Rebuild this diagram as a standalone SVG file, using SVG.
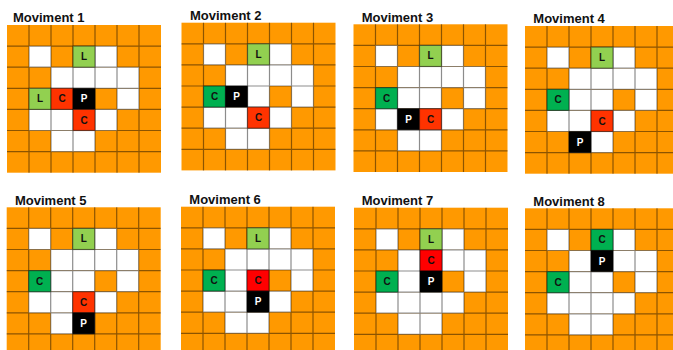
<svg xmlns="http://www.w3.org/2000/svg" xmlns:xlink="http://www.w3.org/1999/xlink" width="673" height="350" viewBox="0 0 673 350">
<style>
.title{font-family:"Liberation Sans",Arial,sans-serif;font-weight:bold;font-size:13px;fill:#111}
.lbl{font-family:"Liberation Sans",Arial,sans-serif;font-weight:bold;font-size:10px;text-anchor:middle}
.k{fill:#111}
.w{fill:#fff}
.ln{stroke:#000;stroke-opacity:0.45;stroke-width:1.2;fill:none}
.sp{stroke:#000;stroke-opacity:0.45;stroke-width:1.2}
.lg{fill:#92d050}
.dg{fill:#00b050}
.rd{fill:#ff3300}
.rd2{fill:#ff0000}
.bk{fill:#000}
</style>
<defs>
<g id="base">
<rect x="0" y="0" width="154" height="147.7" fill="#ff9900"/>
<g fill="#fff">
<rect x="22" y="21.1" width="22" height="21.1"/>
<rect x="66" y="21.1" width="22" height="21.1"/>
<rect x="88" y="21.1" width="22" height="21.1"/>
<rect x="44" y="42.2" width="88" height="21.1"/>
<rect x="22" y="63.3" width="66" height="21.1"/>
<rect x="110" y="63.3" width="22" height="21.1"/>
<rect x="22" y="84.4" width="88" height="21.1"/>
<rect x="44" y="105.5" width="44" height="21.1"/>
</g>
<path class="ln" d="M22 0V147.7M44 0V147.7M66 0V147.7M88 0V147.7M110 0V147.7M132 0V147.7M0 21.1H154M0 42.2H154M0 63.3H154M0 84.4H154M0 105.5H154M0 126.6H154"/>
</g>
</defs>
<g id="connectors"></g>
<g id="grid1">
<text class="title" x="13" y="21.5">Moviment 1</text>
<g transform="translate(7,25)">
<use xlink:href="#base" href="#base"/>
<rect class="sp lg" x="66" y="21.1" width="22" height="21.1"/><text class="lbl k" x="77" y="35.2">L</text>
<rect class="sp lg" x="22" y="63.3" width="22" height="21.1"/><text class="lbl k" x="33" y="77.4">L</text>
<rect class="sp rd" x="44" y="63.3" width="22" height="21.1"/><text class="lbl k" x="55" y="77.4">C</text>
<rect class="sp bk" x="66" y="63.3" width="22" height="21.1"/><text class="lbl w" x="77" y="77.4">P</text>
<rect class="sp rd" x="66" y="84.4" width="22" height="21.1"/><text class="lbl k" x="77" y="98.5">C</text>
</g>
</g>
<g id="grid2">
<text class="title" x="190" y="20">Moviment 2</text>
<g transform="translate(181.5,22.7)">
<use xlink:href="#base" href="#base"/>
<rect class="sp lg" x="66" y="21.1" width="22" height="21.1"/><text class="lbl k" x="77" y="35.2">L</text>
<rect class="sp dg" x="22" y="63.3" width="22" height="21.1"/><text class="lbl k" x="33" y="77.4">C</text>
<rect class="sp bk" x="44" y="63.3" width="22" height="21.1"/><text class="lbl w" x="55" y="77.4">P</text>
<rect class="sp rd" x="66" y="84.4" width="22" height="21.1"/><text class="lbl k" x="77" y="98.5">C</text>
</g>
</g>
<g id="grid3">
<text class="title" x="361.7" y="21.7">Moviment 3</text>
<g transform="translate(353.5,24.3)">
<use xlink:href="#base" href="#base"/>
<rect class="sp lg" x="66" y="21.1" width="22" height="21.1"/><text class="lbl k" x="77" y="35.2">L</text>
<rect class="sp dg" x="22" y="63.3" width="22" height="21.1"/><text class="lbl k" x="33" y="77.4">C</text>
<rect class="sp bk" x="44" y="84.4" width="22" height="21.1"/><text class="lbl w" x="55" y="98.5">P</text>
<rect class="sp rd" x="66" y="84.4" width="22" height="21.1"/><text class="lbl k" x="77" y="98.5">C</text>
</g>
</g>
<g id="grid4">
<text class="title" x="533.3" y="23.3">Moviment 4</text>
<g transform="translate(525,26)">
<use xlink:href="#base" href="#base"/>
<rect class="sp lg" x="66" y="21.1" width="22" height="21.1"/><text class="lbl k" x="77" y="35.2">L</text>
<rect class="sp dg" x="22" y="63.3" width="22" height="21.1"/><text class="lbl k" x="33" y="77.4">C</text>
<rect class="sp rd" x="66" y="84.4" width="22" height="21.1"/><text class="lbl k" x="77" y="98.5">C</text>
<rect class="sp bk" x="44" y="105.5" width="22" height="21.1"/><text class="lbl w" x="55" y="119.6">P</text>
</g>
</g>
<g id="grid5">
<text class="title" x="15" y="205">Moviment 5</text>
<g transform="translate(6.7,207.3)">
<use xlink:href="#base" href="#base"/>
<rect class="sp lg" x="66" y="21.1" width="22" height="21.1"/><text class="lbl k" x="77" y="35.2">L</text>
<rect class="sp dg" x="22" y="63.3" width="22" height="21.1"/><text class="lbl k" x="33" y="77.4">C</text>
<rect class="sp rd" x="66" y="84.4" width="22" height="21.1"/><text class="lbl k" x="77" y="98.5">C</text>
<rect class="sp bk" x="66" y="105.5" width="22" height="21.1"/><text class="lbl w" x="77" y="119.6">P</text>
</g>
</g>
<g id="grid6">
<text class="title" x="189.3" y="204.3">Moviment 6</text>
<g transform="translate(181,206.7)">
<use xlink:href="#base" href="#base"/>
<rect class="sp lg" x="66" y="21.1" width="22" height="21.1"/><text class="lbl k" x="77" y="35.2">L</text>
<rect class="sp dg" x="22" y="63.3" width="22" height="21.1"/><text class="lbl k" x="33" y="77.4">C</text>
<rect class="sp rd2" x="66" y="63.3" width="22" height="21.1"/><text class="lbl k" x="77" y="77.4">C</text>
<rect class="sp bk" x="66" y="84.4" width="22" height="21.1"/><text class="lbl w" x="77" y="98.5">P</text>
</g>
</g>
<g id="grid7">
<text class="title" x="361.7" y="205">Moviment 7</text>
<g transform="translate(354,207.7)">
<use xlink:href="#base" href="#base"/>
<rect class="sp lg" x="66" y="21.1" width="22" height="21.1"/><text class="lbl k" x="77" y="35.2">L</text>
<rect class="sp rd2" x="66" y="42.2" width="22" height="21.1"/><text class="lbl k" x="77" y="56.3">C</text>
<rect class="sp dg" x="22" y="63.3" width="22" height="21.1"/><text class="lbl k" x="33" y="77.4">C</text>
<rect class="sp bk" x="66" y="63.3" width="22" height="21.1"/><text class="lbl w" x="77" y="77.4">P</text>
</g>
</g>
<g id="grid8">
<text class="title" x="533.3" y="205.7">Moviment 8</text>
<g transform="translate(525,208.3)">
<use xlink:href="#base" href="#base"/>
<rect class="sp dg" x="66" y="21.1" width="22" height="21.1"/><text class="lbl k" x="77" y="35.2">C</text>
<rect class="sp bk" x="66" y="42.2" width="22" height="21.1"/><text class="lbl w" x="77" y="56.3">P</text>
<rect class="sp dg" x="22" y="63.3" width="22" height="21.1"/><text class="lbl k" x="33" y="77.4">C</text>
</g>
</g>
</svg>
